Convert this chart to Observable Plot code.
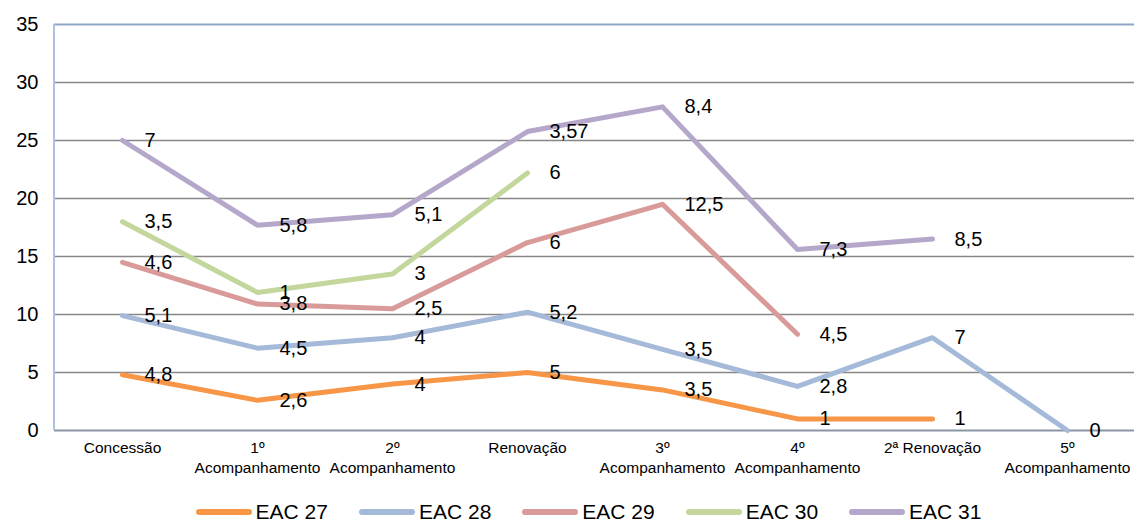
<!DOCTYPE html>
<html>
<head>
<meta charset="utf-8">
<script src="https://cdn.jsdelivr.net/npm/d3@7"></script>
<script src="https://cdn.jsdelivr.net/npm/@observablehq/plot@0.6"></script>
<style>
  html, body { margin: 0; padding: 0; background: #fff; }
  body { width: 1137px; height: 521px; position: relative; overflow: hidden; font-family: "Liberation Sans", Arial, sans-serif; }
  #legend { position: absolute; left: 20px; top: 500px; width: 1137px; height: 24px; display: flex; justify-content: center; align-items: center; gap: 31px; }
  .item { display: flex; align-items: center; gap: 4px; font-size: 21px; color: #000; }
  .sw { width: 56px; height: 6px; border-radius: 3px; }
</style>
</head>
<body>
<div id="chart"></div>
<div id="legend"></div>
<script>
const categories = ["Concessão","1º Acompanhamento","2º Acompanhamento","Renovação","3º Acompanhamento","4º Acompanhamento","2ª Renovação","5º Acompanhamento"];
const tickLabels = ["Concessão","1º\nAcompanhamento","2º\nAcompanhamento","Renovação","3º\nAcompanhamento","4º\nAcompanhamento","2ª Renovação","5º\nAcompanhamento"];
const seriesNames = ["EAC 27","EAC 28","EAC 29","EAC 30","EAC 31"];
const eac27 = [4.8, 2.6, 4, 5, 3.5, 1, 1, null];
const eac28 = [5.1, 4.5, 4, 5.2, 3.5, 2.8, 7, 0];
const eac29 = [4.6, 3.8, 2.5, 6, 12.5, 4.5, null, null];
const eac30 = [3.5, 1, 3, 6, null, null, null, null];
const eac31 = [7, 5.8, 5.1, 3.57, 8.4, 7.3, 8.5, null];
const yTicks = [0, 5, 10, 15, 20, 25, 30, 35];
const colors = ["#f79646", "#a5b9d9", "#d99b99", "#c3d69b", "#b4a7c9"];

const seriesValues = [eac27, eac28, eac29, eac30, eac31];
// stacked line (cumulative over available series at each category)
const rows = [];
const cum = categories.map(() => 0);
seriesValues.forEach((vals, s) => {
  vals.forEach((v, i) => {
    if (v == null) return;
    cum[i] += v;
    rows.push({series: seriesNames[s], cat: categories[i], value: v, y: cum[i]});
  });
});

const fmt = v => String(v).replace(".", ",");
const tickMap = new Map(categories.map((c, i) => [c, tickLabels[i]]));

// left axis line of the plot area
const leftLine = (index, scales, values, dims) => {
  const g = d3.create("svg:line")
    .attr("x1", dims.marginLeft).attr("x2", dims.marginLeft)
    .attr("y1", scales.y(35)).attr("y2", scales.y(0))
    .attr("stroke", "#a9c3e3").attr("stroke-width", 2);
  return g.node();
};

const chart = Plot.plot({
  width: 1137,
  height: 495,
  marginLeft: 54,
  marginRight: 3,
  marginTop: 24,
  marginBottom: 65,
  style: {fontFamily: "'Liberation Sans', Arial, sans-serif", background: "#fff", color: "#000"},
  x: {type: "point", domain: categories, padding: 0.5, label: null},
  y: {domain: [0, 35], label: null},
  color: {domain: seriesNames, range: colors},
  marks: [
    Plot.ruleY(yTicks.filter(t => t > 0 && t < 35), {stroke: "#878787", strokeWidth: 1.5}),
    Plot.ruleY([35], {stroke: "#8ea6c6", strokeWidth: 2}),
    Plot.ruleY([0], {stroke: "#8a96a6", strokeWidth: 2}),
    leftLine,
    Plot.axisY({ticks: yTicks, tickSize: 0, tickPadding: 16, fontSize: 20, tickFormat: d => d}),
    Plot.axisX({tickSize: 0, tickPadding: 8, fontSize: 15.5, lineHeight: 1.3, tickFormat: d => tickMap.get(d)}),
    Plot.line(rows, {x: "cat", y: "y", z: "series", stroke: "series", strokeWidth: 5, strokeLinecap: "round", strokeLinejoin: "round"}),
    Plot.text(rows, {x: "cat", y: "y", text: d => fmt(d.value), textAnchor: "start", dx: 22, fontSize: 20, fill: "#000"})
  ]
});
document.getElementById("chart").appendChild(chart);

const legend = document.getElementById("legend");
seriesNames.forEach((name, i) => {
  const item = document.createElement("div");
  item.className = "item";
  const sw = document.createElement("div");
  sw.className = "sw";
  sw.style.background = colors[i];
  const t = document.createElement("span");
  t.textContent = name;
  item.appendChild(sw);
  item.appendChild(t);
  legend.appendChild(item);
});
</script>
</body>
</html>
